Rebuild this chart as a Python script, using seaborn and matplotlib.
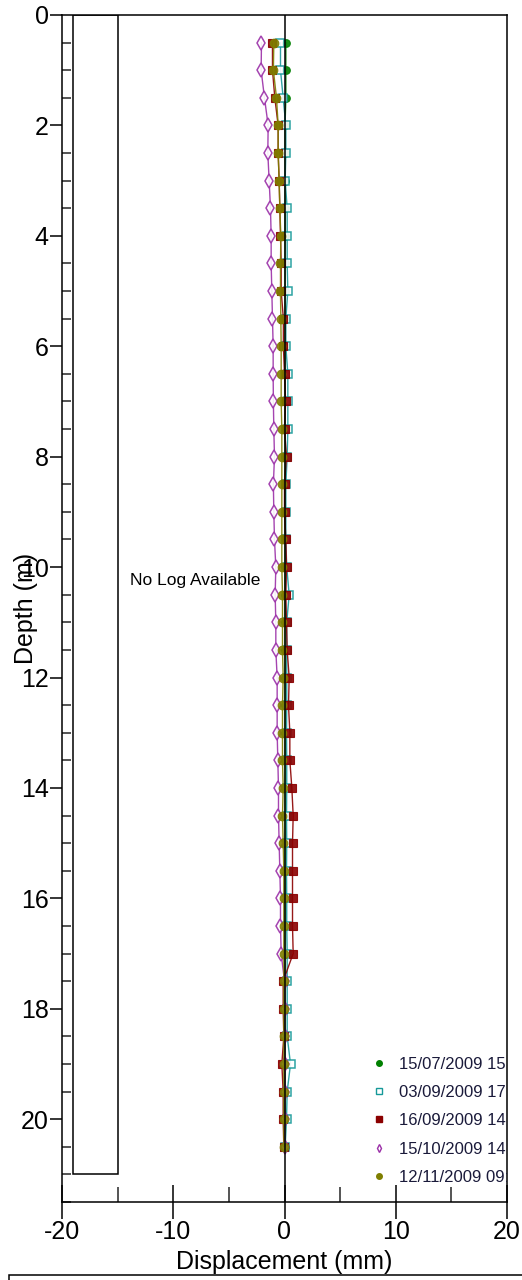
import matplotlib
matplotlib.use("Agg")
import matplotlib.pyplot as plt
from matplotlib.patches import Rectangle
from matplotlib.lines import Line2D
from matplotlib.ticker import MultipleLocator
import seaborn as sns
import pandas as pd

# ---------------- data ----------------
depth = [0.5, 1.0, 1.5, 2.0, 2.5, 3.0, 3.5, 4.0, 4.5, 5.0,
         5.5, 6.0, 6.5, 7.0, 7.5, 8.0, 8.5, 9.0, 9.5, 10.0,
         10.5, 11.0, 11.5, 12.0, 12.5, 13.0, 13.5, 14.0, 14.5, 15.0,
         15.5, 16.0, 16.5, 17.0, 17.5, 18.0, 18.5, 19.0, 19.5, 20.0,
         20.5]

s_0715 = [0.12, 0.12, 0.12, 0.05, 0.05, 0.05, 0.05, 0.05, 0.05, 0.05,
          0.05, 0.05, 0.05, 0.05, 0.05, 0.05, 0.05, 0.05, 0.05, 0.05,
          0.05, 0.05, 0.05, 0.05, 0.05, 0.05, 0.05, 0.05, 0.05, 0.05,
          0.05, 0.05, 0.05, 0.05, 0.05, 0.05, 0.05, 0.05, 0.05, 0.05,
          0.05]
s_0903 = [-0.36, -0.36, -0.12, 0.12, 0.12, 0.06, 0.24, 0.24, 0.24, 0.30,
          0.12, 0.12, 0.30, 0.30, 0.30, 0.24, 0.12, 0.12, 0.12, 0.20,
          0.42, 0.20, 0.20, 0.20, 0.20, 0.18, 0.20, 0.20, 0.18, 0.20,
          0.18, 0.20, 0.20, 0.24, 0.24, 0.24, 0.24, 0.54, 0.24, 0.18,
          0.06]
s_0916 = [-1.08, -1.08, -0.87, -0.57, -0.57, -0.48, -0.42, -0.36, -0.30, -0.30,
          -0.10, -0.10, 0.00, 0.10, 0.00, 0.18, 0.00, 0.00, 0.12, 0.18,
          0.12, 0.18, 0.24, 0.42, 0.36, 0.48, 0.48, 0.66, 0.78, 0.72,
          0.72, 0.72, 0.72, 0.78, -0.12, -0.12, -0.06, -0.24, -0.12, -0.12,
          -0.06]
s_1015 = [-2.07, -2.10, -1.80, -1.47, -1.50, -1.38, -1.26, -1.20, -1.20, -1.14,
          -1.08, -1.02, -1.02, -1.00, -0.96, -0.90, -1.00, -0.96, -0.90, -0.78,
          -0.84, -0.78, -0.78, -0.66, -0.66, -0.66, -0.60, -0.54, -0.54, -0.48,
          -0.42, -0.36, -0.36, -0.30, 0.00, 0.00, 0.00, 0.00, 0.00, 0.00,
          0.00]
s_1112 = [-0.96, -1.00, -0.72, -0.57, -0.57, -0.48, -0.42, -0.33, -0.36, -0.36,
          -0.33, -0.30, -0.30, -0.30, -0.24, -0.24, -0.24, -0.24, -0.24, -0.24,
          -0.18, -0.18, -0.18, -0.12, -0.18, -0.18, -0.18, -0.12, -0.18, -0.12,
          -0.06, -0.06, -0.06, -0.06, -0.06, -0.06, -0.06, -0.06, -0.06, -0.06,
          -0.06]

labels = ["15/07/2009 15:32", "03/09/2009 17:05", "16/09/2009 14:20",
          "15/10/2009 14:48", "12/11/2009 09:15"]
x_ticks = [-20, -10, 0, 10, 20]
y_ticks = [0, 2, 4, 6, 8, 10, 12, 14, 16, 18, 20]

# ---------------- style ----------------
sns.set_theme(style="white")
plt.rcParams["font.family"] = ["Liberation Sans", "DejaVu Sans"]
plt.rcParams["axes.edgecolor"] = "black"
plt.rcParams["axes.linewidth"] = 1.1

fig = plt.figure(figsize=(5.22, 12.8), dpi=100)
ax = fig.add_axes([62 / 522, 1 - 1202 / 1280, 445 / 522, (1202 - 15) / 1280])

styles = [
    dict(marker="o", color="#008000", mfc="#008000", mec="#008000", ms=5.5),
    dict(marker="s", color="#199a9a", mfc="white", mec="#169999", ms=6.0, mew=1.1),
    dict(marker="s", color="#8b0000", mfc="#8b0000", mec="#8b0000", ms=6.3),
    dict(marker="d", color="#9b30a8", mfc="white", mec="#9b30a8", ms=7.0, mew=1.1),
    dict(marker="o", color="#7f7f00", mfc="#7f7f00", mec="#7f7f00", ms=6.2),
]
series = [s_0715, s_0903, s_0916, s_1015, s_1112]

for vals, lab, st in zip(series, labels, styles):
    df = pd.DataFrame({"disp": vals, "depth": depth})
    sns.lineplot(data=df, x="disp", y="depth", sort=False, estimator=None,
                 ax=ax, color=st["color"], linewidth=1.0, marker=st["marker"],
                 markersize=st["ms"], markerfacecolor=st["mfc"],
                 markeredgecolor=st["mec"], markeredgewidth=st.get("mew", 0.8),
                 alpha=0.9, legend=False)

ax.axvline(0, color="black", lw=1.1, zorder=5)

# "No log" box
ax.add_patch(Rectangle((-19, 0), 4, 21, fill=False, ec="black", lw=1.1, zorder=2))
ax.text(-13.9, 10.25, "No Log Available", fontsize=12.5, va="center", ha="left",
        color="black")

ax.set_xlim(-20, 20)
ax.set_ylim(21.5, 0)
ax.set_xticks(x_ticks)
ax.set_xticklabels([str(v) for v in x_ticks])
ax.set_yticks(y_ticks)
ax.set_yticklabels([str(v) for v in y_ticks])
ax.xaxis.set_minor_locator(MultipleLocator(5))
ax.yaxis.set_minor_locator(MultipleLocator(0.5))
ax.tick_params(axis="x", which="major", direction="inout", length=24, width=1.1,
               labelsize=18, pad=1, bottom=True, top=False, colors="black")
ax.tick_params(axis="x", which="minor", direction="in", length=11, width=1.1,
               bottom=True, top=False)
ax.tick_params(axis="y", which="major", direction="out", length=8.5, width=1.1,
               labelsize=18, pad=1, left=True, right=False, colors="black")
ax.tick_params(axis="y", which="minor", direction="in", length=6.5, width=1.1,
               left=True, right=False)
for sp in ax.spines.values():
    sp.set_visible(True)
    sp.set_color("black")
    sp.set_linewidth(1.1)

ax.set_xlabel("Displacement (mm)", fontsize=18, labelpad=4, color="black")
ax.set_ylabel("Depth (m)", fontsize=18, color="black")
ax.yaxis.label.set_va("center")
ax.yaxis.set_label_coords(-0.081, 0.5)
ax.grid(False)

# legend (clipped at the right spine as in the reference)
handles = [Line2D([], [], linestyle="none", marker=st["marker"], markersize=4.0,
                  markerfacecolor=st["mfc"], markeredgecolor=st["mec"],
                  markeredgewidth=1.0)
           for st in styles]
leg = ax.legend(handles, labels, loc="upper left", bbox_to_anchor=(0.697, 0.1225),
                frameon=False, fontsize=12, handlelength=0.8, handletextpad=0.8,
                labelspacing=0.80, borderaxespad=0, borderpad=0)
for t in leg.get_texts():
    t.set_clip_on(True)
    t.set_clip_box(ax.bbox)
    t.set_color("#1a1a3a")

# box at the very bottom of the page
fig.add_artist(Rectangle((9 / 522, -0.2), 1.2, 0.2 + (1280 - 1275) / 1280,
                         transform=fig.transFigure, fill=False, ec="black",
                         lw=1.1, clip_on=False))

fig.savefig("out.png", dpi=100)
